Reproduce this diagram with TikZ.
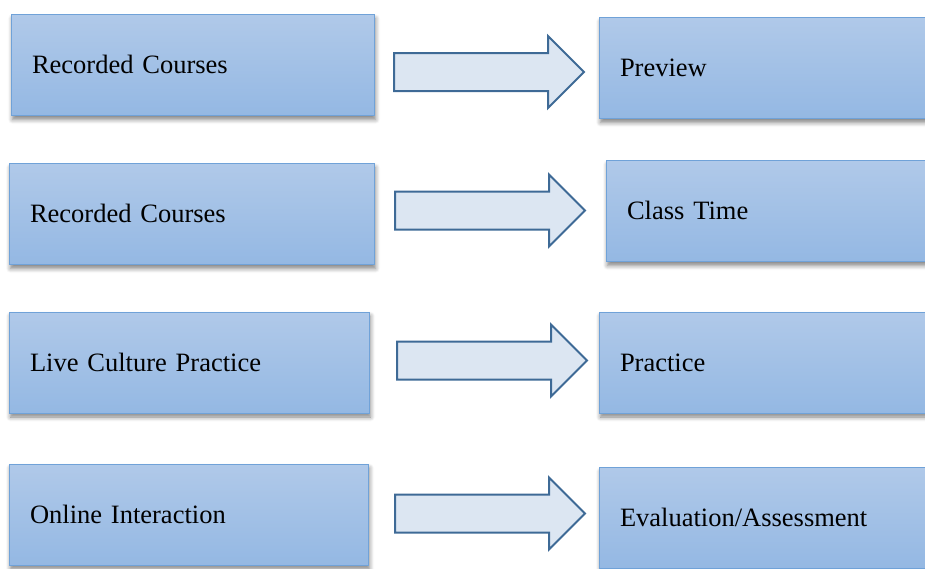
\documentclass[tikz,border=0pt]{standalone}
\usepackage{xcolor}
\usepackage{fontspec}
\setmainfont{Liberation Serif}
\newfontfamily\labelfont[WordSpace=0.7]{Liberation Serif}
\usepackage{tikz}
\usetikzlibrary{shapes.arrows, shadows.blur}

\definecolor{boxtop}{RGB}{176,201,233}
\definecolor{boxbot}{RGB}{148,184,227}
\definecolor{boxline}{RGB}{112,162,216}
\definecolor{arrfill}{RGB}{220,230,242}
\definecolor{arrline}{RGB}{62,106,150}

\begin{document}
\begin{tikzpicture}[
    x=1pt, y=-1pt,
    box/.style={rectangle, draw=boxline, line width=1pt,
                top color=boxtop, bottom color=boxbot,
                blur shadow={shadow xshift=1.5pt, shadow yshift=-4pt,
                             shadow blur steps=6, shadow blur radius=4.5pt,
                             shadow opacity=50},
                inner xsep=21pt, inner ysep=0pt,
                text height=17pt, text depth=0pt,
                align=left, text width=#1,
                minimum height=101pt,
                font=\labelfont\fontsize{26.5}{30}\selectfont},
    box/.default=318pt,
    bigarrow/.style={single arrow, draw=arrline, fill=arrfill, line width=2pt,
                     single arrow head extend=17pt, single arrow tip angle=90,
                     inner xsep=0pt, inner ysep=18pt,
                     minimum height=190pt, anchor=tail}
]
\clip (0,0) rectangle (925,568);

% left column
\node[box=321pt] (rec1)   at (192.5,65)  {Recorded Courses};
\node[box=323pt] (rec2)   at (191.5,214) {Recorded Courses};
\node[box=318pt] (live)   at (189,362.5) {Live Culture Practice};
\node[box=317pt] (online) at (188.5,514.5) {Online Interaction};

% right column (runs off the page)
\node[box] (prev)  at (779,68)    {Preview};
\node[box] (class) at (786,211)   {Class Time};
\node[box] (prac)  at (779,362.5) {Practice};
\node[box] (eval)  at (779,518)   {Evaluation/Assessment};

% block arrows between the columns
\node[bigarrow] (go1) at (393,72)    {};
\node[bigarrow] (go2) at (394,210.5) {};
\node[bigarrow] (go3) at (396,360.5) {};
\node[bigarrow] (go4) at (394,513.5) {};
\end{tikzpicture}
\end{document}
